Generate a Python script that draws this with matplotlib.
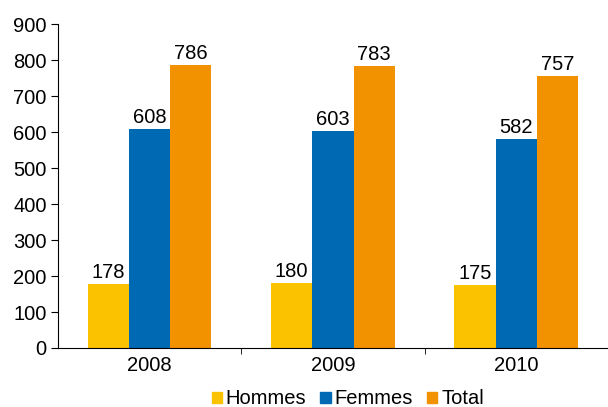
import numpy as np
from matplotlib import pyplot as plt
from matplotlib.patches import Patch

plt.rcParams['font.family'] = ['Liberation Sans', 'DejaVu Sans']

years = ['2008', '2009', '2010']
hommes = [178, 180, 175]
femmes = [608, 603, 582]
total = [786, 783, 757]

series = [('Hommes', hommes, '#FBC200'),
          ('Femmes', femmes, '#0069B4'),
          ('Total', total, '#F39200')]

fig = plt.figure(figsize=(6.08, 4.07), dpi=100)
ax = fig.add_axes([0.095, 0.145, 0.905, 0.795])

fs = 14.5
x = np.arange(len(years))
w = 0.225
for i, (name, vals, col) in enumerate(series):
    pos = x + (i - 1) * w
    ax.bar(pos, vals, width=w, color=col, label=name)
    for p, v in zip(pos, vals):
        ax.text(p, v + 6, str(v), ha='center', va='bottom', fontsize=fs)

ax.set_xlim(-0.5, 2.5)
ax.set_ylim(0, 900)
ax.set_yticks(range(0, 901, 100))
ax.set_xticks(x)
ax.set_xticklabels(years)
ax.set_xticks([0.5, 1.5, 2.5], minor=True)
ax.tick_params(axis='x', which='major', length=0, labelsize=fs, pad=6)
ax.tick_params(axis='x', which='minor', length=4, direction='out')
ax.tick_params(axis='y', labelsize=fs, length=5, direction='out', pad=3)
for s in ['top', 'right']:
    ax.spines[s].set_visible(False)

handles = [Patch(color=c, label=n) for n, v, c in series]
fig.legend(handles=handles, loc='lower center', bbox_to_anchor=(0.572, -0.048),
           ncol=3, frameon=False, fontsize=fs, handlelength=0.5, handleheight=0.5,
           handletextpad=0.2, columnspacing=0.7)

fig.savefig('out.png', dpi=100)
